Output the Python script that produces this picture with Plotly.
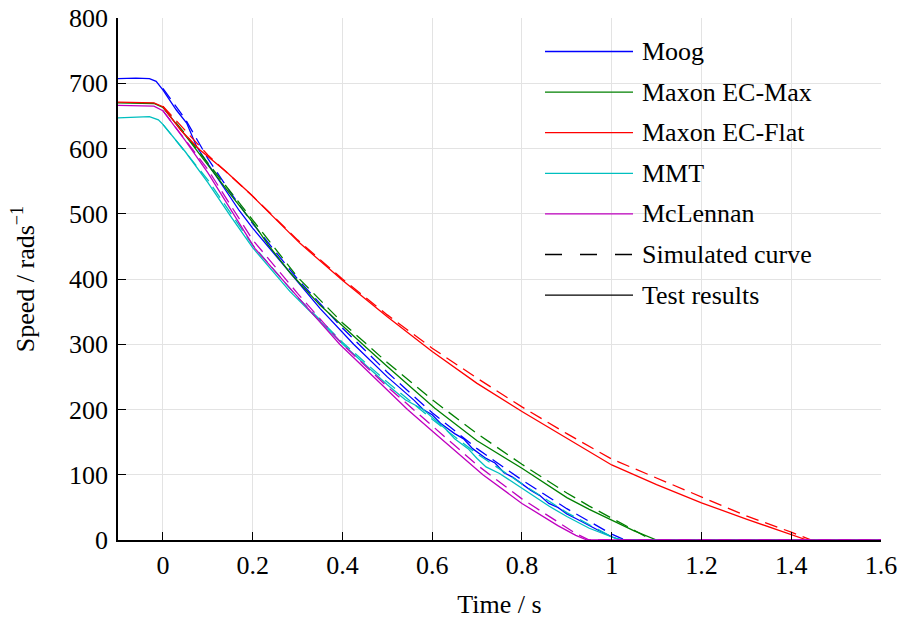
import plotly.graph_objects as go

# ---------------- data ----------------
# Test results (solid)
moog_test_t = [-0.1, -0.06, -0.03, -0.015, 0.0, 0.03, 0.053, 0.075, 0.105, 0.14, 0.17, 0.2, 0.25, 0.3, 0.35, 0.425, 0.5, 0.53, 0.56, 0.58, 0.6, 0.62, 0.65, 0.67, 0.69, 0.72, 0.74, 0.76, 0.78, 0.8, 0.82, 0.84, 0.86, 0.88, 0.9, 0.92, 0.95, 0.97, 1.0, 1.02, 1.6]
moog_test_v = [707, 708, 707, 703, 690, 659, 639, 603, 572, 535, 505, 478, 437, 395, 355, 300, 250, 232, 214, 200, 192, 178, 163, 155, 140, 125, 118, 103, 96, 86, 76, 68, 56, 50, 40, 33, 22, 15, 5, 0, 0]

ecmax_test_t = [-0.1, -0.05, -0.02, 0.0, 0.05, 0.1, 0.15, 0.2, 0.235, 0.283, 0.35, 0.445, 0.5, 0.606, 0.7, 0.8, 0.85, 0.9, 0.95, 1.0, 1.05, 1.1, 1.6]
ecmax_test_v = [670, 670, 669, 663, 620, 575, 530, 487, 452, 410, 360, 300, 266, 202, 152, 110, 88, 65, 47, 31, 14, 0, 0]

ecflat_test_t = [-0.1, -0.05, -0.02, 0.0, 0.04, 0.082, 0.14, 0.194, 0.24, 0.305, 0.4, 0.5, 0.6, 0.7, 0.8, 0.9, 1.0, 1.1, 1.2, 1.3, 1.4, 1.435, 1.6]
ecflat_test_v = [671, 671, 670, 664, 628, 598, 565, 531, 500, 455, 398, 342, 289, 240, 197, 156, 115, 85, 57, 32, 9, 0, 0]

mmt_test_t = [-0.1, -0.06, -0.03, -0.01, 0.0, 0.05, 0.1, 0.15, 0.2, 0.283, 0.401, 0.5, 0.54, 0.58, 0.6, 0.63, 0.65, 0.68, 0.7, 0.72, 0.75, 0.78, 0.8, 0.83, 0.86, 0.9, 0.95, 1.01, 1.03, 1.6]
mmt_test_v = [647, 648, 649, 644, 637, 595, 548, 497, 448, 381, 300, 238, 215, 200, 188, 170, 155, 140, 125, 112, 102, 88, 80, 65, 52, 36, 18, 2, 0, 0]

mclennan_test_t = [-0.1, -0.05, -0.02, 0.0, 0.05, 0.1, 0.15, 0.205, 0.283, 0.394, 0.5, 0.545, 0.6, 0.713, 0.8, 0.88, 0.92, 0.945, 1.6]
mclennan_test_v = [666, 666, 665, 658, 612, 563, 508, 447, 386, 300, 230, 200, 167, 100, 56, 22, 7, 0, 0]

# Simulated curves (dashed)
moog_sim_t = [0.0, 0.05, 0.1, 0.15, 0.2, 0.3, 0.4, 0.5, 0.6, 0.7, 0.8, 0.9, 1.0, 1.03, 1.6]
moog_sim_v = [692, 645, 585, 533, 485, 400, 325, 257, 195, 140, 92, 48, 9, 0, 0]

ecmax_sim_t = [0.0, 0.05, 0.1, 0.2, 0.3, 0.4, 0.5, 0.6, 0.7, 0.8, 0.9, 0.95, 1.0, 1.05, 1.09, 1.6]
ecmax_sim_v = [664, 622, 578, 490, 403, 333, 272, 215, 163, 116, 72, 52, 34, 15, 0, 0]

ecflat_sim_t = [0.0, 0.1, 0.2, 0.3, 0.4, 0.5, 0.6, 0.7, 0.8, 0.9, 1.0, 1.1, 1.2, 1.3, 1.4, 1.445, 1.6]
ecflat_sim_v = [665, 590, 527, 460, 400, 345, 294, 248, 204, 163, 124, 95, 65, 37, 12, 0, 0]

mmt_sim_t = [0.0, 0.1, 0.2, 0.3, 0.4, 0.5, 0.6, 0.7, 0.8, 0.9, 1.0, 1.02, 1.6]
mmt_sim_v = [637, 552, 452, 372, 303, 242, 185, 132, 86, 42, 5, 0, 0]

mclennan_sim_t = [0.0, 0.1, 0.2, 0.3, 0.4, 0.5, 0.6, 0.7, 0.8, 0.88, 0.92, 0.95, 1.6]
mclennan_sim_v = [658, 568, 460, 378, 300, 235, 175, 115, 63, 28, 10, 0, 0]

motor_names = ["Moog", "Maxon EC-Max", "Maxon EC-Flat", "MMT", "McLennan"]
motor_colors = ["#0000ff", "#008000", "#ff0000", "#00bfbf", "#bf00bf"]
legend_extra = ["Simulated curve", "Test results"]

x_ticks = [0, 0.2, 0.4, 0.6, 0.8, 1.0, 1.2, 1.4, 1.6]
y_ticks = [0, 100, 200, 300, 400, 500, 600, 700, 800]

tests = [(moog_test_t, moog_test_v), (ecmax_test_t, ecmax_test_v), (ecflat_test_t, ecflat_test_v),
         (mmt_test_t, mmt_test_v), (mclennan_test_t, mclennan_test_v)]
sims = [(moog_sim_t, moog_sim_v), (ecmax_sim_t, ecmax_sim_v), (ecflat_sim_t, ecflat_sim_v),
        (mmt_sim_t, mmt_sim_v), (mclennan_sim_t, mclennan_sim_v)]

FONT = "'Liberation Serif', 'Times New Roman', serif"
FS = 26
W, H = 900, 622
L, R, T, B = 118, 19, 18, 82

fig = go.Figure()
for name, color, (tt, tv), (st, sv) in zip(motor_names, motor_colors, tests, sims):
    fig.add_trace(go.Scatter(x=st, y=sv, mode="lines", name=name + " (simulated)",
                             line=dict(color=color, width=1.3, dash="13px,7px"), showlegend=False))
    fig.add_trace(go.Scatter(x=tt, y=tv, mode="lines", name=name,
                             line=dict(color=color, width=1.3), showlegend=False))

# ---- hand-drawn legend (long sample lines like the reference) ----
pw, ph = W - L - R, H - T - B
def px2paper(xp, yp):
    return (xp - L) / pw, (H - B - yp) / ph

legend_items = [(n, c, "solid") for n, c in zip(motor_names, motor_colors)] + \
               [(legend_extra[0], "#000000", "17px,18px"), (legend_extra[1], "#000000", "solid")]
row0, dy = 51.5, 40.6
shapes, annots = [], []
for i, (lab, col, dash) in enumerate(legend_items):
    yp = row0 + i * dy
    x0, y0 = px2paper(545, yp)
    x1, _ = px2paper(633, yp)
    shapes.append(dict(type="line", xref="paper", yref="paper", x0=x0, x1=x1, y0=y0, y1=y0,
                       line=dict(color=col, width=1.3, dash=dash)))
    xt, _ = px2paper(640, yp)
    annots.append(dict(xref="paper", yref="paper", x=xt, y=y0, text=lab, showarrow=False,
                       xanchor="left", yanchor="middle", font=dict(family=FONT, size=FS, color="black")))

fig.update_layout(
    width=W, height=H,
    margin=dict(l=L, r=R, t=T, b=B, autoexpand=False),
    paper_bgcolor="white", plot_bgcolor="white",
    font=dict(family=FONT, size=FS, color="black"),
    shapes=shapes, annotations=annots,
    showlegend=False,
)
fig.update_xaxes(range=[-0.1, 1.6], tickvals=x_ticks, ticktext=[f"{v:g}" for v in x_ticks],
                 automargin=False,
                 showgrid=True, gridcolor="#e3e3e3", gridwidth=1, zeroline=False,
                 showline=True, linecolor="black", linewidth=1.5,
                 ticks="inside", ticklen=8, tickwidth=1.3, tickcolor="black",
                 ticklabelstandoff=1,
                 title=dict(text="Time / s", standoff=16, font=dict(family=FONT, size=FS)))
fig.update_yaxes(range=[0, 800], tickvals=y_ticks,
                 automargin=False,
                 showgrid=True, gridcolor="#e3e3e3", gridwidth=1, zeroline=False,
                 showline=True, linecolor="black", linewidth=1.5,
                 ticks="inside", ticklen=8, tickwidth=1.3, tickcolor="black",
                 ticklabelstandoff=3,
                 title=dict(text="Speed / rads<sup>\u22121</sup>", standoff=27, font=dict(family=FONT, size=FS)))

fig.write_html("out.html")
